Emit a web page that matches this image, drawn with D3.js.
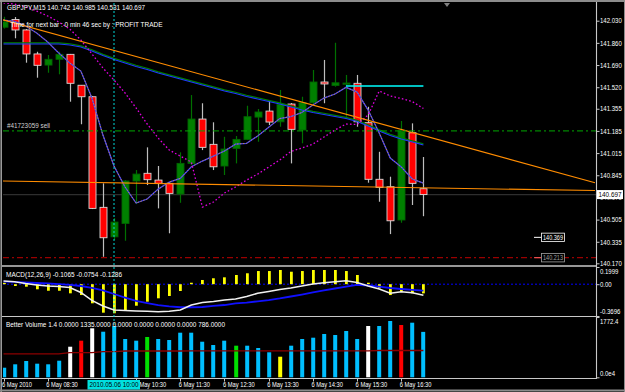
<!DOCTYPE html>
<html>
<head>
<meta charset="utf-8">
<script src="https://cdn.jsdelivr.net/npm/d3@7"></script>
<style>
  html, body { margin: 0; padding: 0; background: #000; }
  svg { display: block; }
  text { font-family: "Liberation Sans", Arial, sans-serif; font-size: 7px; fill: #fff; }
</style>
</head>
<body>
<svg id="chart" width="625" height="392"></svg>
<script>
// ── data (GBPJPY M15, 6 May 2010, 07:30 .. 17:00) ─────────────
const open  = [141.980,142.039,141.959,141.775,141.690,141.734,141.772,141.535,141.447,140.599,140.373,140.476,140.801,140.860,140.808,140.783,140.701,140.936,141.276,141.082,140.916,141.051,141.120,141.291,141.337,141.255,141.391,141.192,141.401,141.560,141.533,141.548,141.550,141.248,140.814,140.757,140.502,141.171,140.742];
const high  = [142.060,142.058,141.966,141.792,141.767,141.792,141.775,141.537,141.453,140.783,140.517,140.808,140.885,141.059,140.916,140.793,141.021,141.460,141.397,141.251,141.140,141.146,141.378,141.353,141.422,141.499,141.399,141.447,141.652,141.729,141.861,141.614,141.614,141.370,141.025,140.834,141.261,141.243,140.985];
const low   = [141.970,141.895,141.708,141.593,141.631,141.619,141.409,141.236,140.586,140.220,140.348,140.343,140.624,140.770,140.591,140.400,140.634,140.923,141.038,140.885,140.847,140.936,141.115,141.102,141.230,141.217,140.936,141.090,141.391,141.397,141.524,141.294,141.217,140.788,140.642,140.394,140.481,140.617,140.531];
const close = [142.020,141.959,141.775,141.688,141.734,141.772,141.550,141.447,140.591,140.366,140.486,140.801,140.854,140.811,140.783,140.706,140.936,141.276,141.059,140.910,141.046,141.120,141.294,141.330,141.253,141.389,141.197,141.401,141.560,141.545,141.554,141.552,141.255,140.814,140.752,140.496,141.184,140.783,140.697];

const slowMA = [141.851,141.851,141.851,141.851,141.851,141.851,141.844,141.828,141.798,141.763,141.732,141.706,141.679,141.656,141.629,141.606,141.583,141.560,141.537,141.514,141.491,141.472,141.449,141.430,141.410,141.391,141.368,141.345,141.326,141.311,141.295,141.280,141.257,141.222,141.184,141.150,141.123,141.100,141.077];
const fastMA = [142.035,142.024,141.989,141.936,141.867,141.782,141.706,141.644,141.437,141.153,140.916,140.755,140.632,140.663,140.739,140.793,140.821,140.910,140.954,140.992,141.031,141.084,141.090,141.146,141.213,141.280,141.295,141.326,141.384,141.437,141.468,141.519,141.483,141.345,141.169,140.977,140.908,140.816,140.785];
const dotLine = [142.166,142.158,142.135,142.104,142.066,142.020,141.966,141.882,141.775,141.667,141.575,141.476,141.361,141.238,141.130,141.038,140.992,140.946,140.601,140.640,140.709,140.755,140.808,140.854,140.908,140.962,141.027,141.054,141.084,141.138,141.192,141.238,141.234,141.307,141.491,141.453,141.433,141.410,141.357];

const macdHist  = [0.017,-0.021,-0.029,-0.059,-0.076,-0.076,-0.106,-0.126,-0.222,-0.331,-0.338,-0.300,-0.250,-0.203,-0.164,-0.137,-0.079,0.017,0.049,0.069,0.080,0.107,0.127,0.153,0.153,0.165,0.145,0.153,0.165,0.165,0.165,0.153,0.107,0.017,-0.048,-0.126,-0.087,-0.106,-0.1065];
const macdWhite = [0.037,0.029,0.008,-0.009,-0.021,-0.027,-0.038,-0.096,-0.189,-0.253,-0.300,-0.306,-0.311,-0.315,-0.320,-0.315,-0.300,-0.242,-0.213,-0.201,-0.184,-0.172,-0.143,-0.106,-0.085,-0.062,-0.044,-0.021,0.002,0.017,0.029,0.041,0.020,-0.021,-0.056,-0.106,-0.087,-0.099,-0.1286];
const macdBlue  = [0.031,0.026,0.020,0.014,0.010,0.002,-0.009,-0.021,-0.044,-0.073,-0.114,-0.155,-0.195,-0.219,-0.242,-0.257,-0.268,-0.268,-0.265,-0.253,-0.242,-0.224,-0.213,-0.199,-0.184,-0.166,-0.143,-0.120,-0.096,-0.073,-0.050,-0.029,-0.009,-0.015,-0.029,-0.044,-0.056,-0.067,-0.0754];

const volume   = [282,382,479,400,382,488,899,1076,1440,1340,1508,1126,1076,1185,1126,1096,1311,1311,1046,949,1076,929,929,861,735,605,929,1126,1164,1273,1243,1361,1126,1508,1508,1655,1537,1605,1335];
const volType  = ["c","c","c","c","c","c","w","r","w","c","c","c","c","g","c","c","c","c","c","c","c","g","c","c","c","y","c","c","c","c","c","c","c","w","c","c","r","c","c"];
const volAvg   = [690,690,690,690,690,690,725,725,725,755,755,772,772,772,772,772,772,778,778,778,778,778,778,778,778,778,778,778,778,778,778,778,778,778,786,786,786,786,786];

const priceTicks = [142.030,141.860,141.690,141.520,141.355,141.185,141.015,140.845,140.675,140.505,140.335,140.170];
const timeTickIdx = [0,4,12,16,20,24,28,32,36];
const timeTickLabels = ["6 May 2010","6 May 08:30","6 May 10:30","6 May 11:30","6 May 12:30","6 May 13:30","6 May 14:30","6 May 15:30","6 May 16:30"];

// chart objects (price levels / trendlines)
const sellLevel = 141.185, tpLevel = 140.213, bidLevel = 140.697, cyanLevel = 141.529;
const trendA = [[1, 142.012], [36, 141.196]];
const trendB = [[0, 140.801], [38, 140.749]];
const crossIdx = 10;

// ── layout ────────────────────────────────────────────────────
const svg = d3.select('#chart');
const axisX = 596.5;
const colVol = { c: '#00BFFF', w: '#FFFFFF', r: '#FF0000', g: '#00E000', y: '#FFFF00' };

const x  = d3.scaleLinear().domain([0, 38]).range([3.5, 423.4]);
const yP = d3.scaleLinear().domain([140.170, 142.030]).range([263.3, 20.7]);
const yM = d3.scaleLinear().domain([-0.3696, 0.1999]).range([316, 267]);
const yV = d3.scaleLinear().domain([0, 1772.4]).range([377.3, 317]);
const idx = d3.range(open.length);

svg.append('rect').attr('width', 625).attr('height', 392).attr('fill', '#000');

const defs = svg.append('defs');
[['clipMain', 3, 3, 593, 262], ['clipMacd', 3, 267, 593, 49], ['clipVol', 3, 317, 593, 61]].forEach(([id, cx, cy, cw, ch]) => {
  defs.append('clipPath').attr('id', id).append('rect')
    .attr('x', cx).attr('y', cy).attr('width', cw).attr('height', ch);
});
// time labels are hidden under the crosshair date box
const cpTime = defs.append('clipPath').attr('id', 'clipTime');
cpTime.append('rect').attr('x', 0).attr('y', 378).attr('width', 87.5).attr('height', 14);
cpTime.append('rect').attr('x', 140).attr('y', 378).attr('width', 460).attr('height', 14);
// price label hidden under the bid label
const cpAxis = defs.append('clipPath').attr('id', 'clipAxis');
cpAxis.append('rect').attr('x', 590).attr('y', 0).attr('width', 35).attr('height', 189.7);
cpAxis.append('rect').attr('x', 590).attr('y', 199.2).attr('width', 35).attr('height', 200);

function fitText(sel, w) {
  sel.attr('textLength', w).attr('lengthAdjust', 'spacingAndGlyphs');
}
function squeeze(sel, k) {
  sel.each(function () {
    const n = this.getComputedTextLength();
    d3.select(this).attr('textLength', n * k).attr('lengthAdjust', 'spacingAndGlyphs');
  });
}

// ── main price window ─────────────────────────────────────────
const main = svg.append('g').attr('clip-path', 'url(#clipMain)');

// bid line (behind the bars)
main.append('line')
  .attr('x1', 3).attr('x2', axisX).attr('y1', yP(bidLevel)).attr('y2', yP(bidLevel))
  .attr('stroke', '#2e2e2e').attr('stroke-width', 1.2);

// candles
const up = i => close[i] >= open[i];
main.append('g').selectAll('line')
  .data(idx).join('line')
  .attr('x1', i => Math.round(x(i)) + 0.5).attr('x2', i => Math.round(x(i)) + 0.5)
  .attr('y1', i => yP(high[i])).attr('y2', i => yP(low[i]))
  .attr('stroke', i => up(i) ? '#007000' : '#BEBEBE')
  .attr('stroke-width', 1.2);

main.append('g').selectAll('rect')
  .data(idx).join('rect')
  .attr('x', i => Math.round(x(i)) - 3)
  .attr('width', 7)
  .attr('y', i => yP(Math.max(open[i], close[i])))
  .attr('height', i => Math.max(1.2, Math.abs(yP(open[i]) - yP(close[i]))))
  .attr('fill', i => up(i) ? '#008000' : '#FF0000')
  .attr('stroke', i => up(i) ? '#006400' : '#D8D8D8')
  .attr('stroke-width', 0.9);

// moving averages
const line = arr => d3.line().x((d, i) => x(i)).y(d => yP(d))(arr);

main.append('path').attr('d', line(slowMA)).attr('fill', 'none')
  .attr('stroke', '#008000').attr('stroke-width', 1.2).attr('transform', 'translate(0,-1.2)');
main.append('path').attr('d', line(slowMA)).attr('fill', 'none')
  .attr('stroke', '#1E3CFF').attr('stroke-width', 1.1);

main.append('path').attr('d', line(fastMA)).attr('fill', 'none')
  .attr('stroke', '#3A3AFF').attr('stroke-width', 1.3);
main.append('path').attr('d', line(fastMA)).attr('fill', 'none')
  .attr('stroke', '#B98A5A').attr('stroke-width', 1).attr('stroke-dasharray', '1.5,1.5');

main.append('path').attr('d', line(dotLine)).attr('fill', 'none')
  .attr('stroke', '#E000E0').attr('stroke-width', 1.3).attr('stroke-dasharray', '1.6,2.2');

// trendlines, extended across the window
function ray(a) {
  const [[i0, p0], [i1, p1]] = a;
  const s = (p1 - p0) / (i1 - i0);
  const iL = x.invert(0), iR = x.invert(595);
  return [[x(iL), yP(p0 + s * (iL - i0))], [x(iR), yP(p0 + s * (iR - i0))]];
}
[trendA, trendB].forEach(t => {
  const [[xa, ya], [xb, yb]] = ray(t);
  main.append('line').attr('x1', xa).attr('y1', ya).attr('x2', xb).attr('y2', yb)
    .attr('stroke', '#FF8C00').attr('stroke-width', 1.1);
});

// order / target levels
main.append('line')
  .attr('x1', 3).attr('x2', axisX).attr('y1', yP(sellLevel)).attr('y2', yP(sellLevel))
  .attr('stroke', '#00A800').attr('stroke-width', 1).attr('stroke-dasharray', '6,3,2,3');
main.append('line')
  .attr('x1', 3).attr('x2', axisX).attr('y1', yP(tpLevel)).attr('y2', yP(tpLevel))
  .attr('stroke', '#9A0000').attr('stroke-width', 1.2).attr('stroke-dasharray', '6,3,2,3');
main.append('line')
  .attr('x1', x(31)).attr('x2', x(38)).attr('y1', yP(cyanLevel)).attr('y2', yP(cyanLevel))
  .attr('stroke', '#00FFFF').attr('stroke-width', 1.6);

// price text objects
[[140.369, '#FFFFFF', '#FFFFFF'], [tpLevel, '#A0A0A0', '#FF6060']].forEach(([p, c, lc]) => {
  const yy = yP(p);
  main.append('line').attr('x1', 534).attr('x2', 541.5).attr('y1', yy).attr('y2', yy)
    .attr('stroke', lc).attr('stroke-width', 1);
  main.append('rect').attr('x', 541.5).attr('y', yy - 4.2).attr('width', 23).attr('height', 8.4)
    .attr('fill', '#000').attr('stroke', c).attr('stroke-width', 0.8);
  main.append('text').attr('x', 553).attr('y', yy).attr('dy', '0.34em')
    .attr('text-anchor', 'middle').style('fill', c).text(p.toFixed(3))
    .call(fitText, 20);
});

main.append('text').attr('x', 7).attr('y', yP(sellLevel) - 2.5)
  .style('fill', '#D0D0D0').text('#41723059 sell').call(fitText, 43);

// ── MACD window ───────────────────────────────────────────────
const macd = svg.append('g').attr('clip-path', 'url(#clipMacd)');
macd.append('line').attr('x1', 3).attr('x2', axisX).attr('y1', yM(0)).attr('y2', yM(0))
  .attr('stroke', '#0000FF').attr('stroke-width', 1).attr('stroke-dasharray', '2,2');
macd.append('g').selectAll('rect').data(idx).join('rect')
  .attr('x', i => Math.round(x(i)) - 1)
  .attr('width', 2.8)
  .attr('y', i => Math.min(yM(0), yM(macdHist[i])))
  .attr('height', i => Math.max(0.8, Math.abs(yM(macdHist[i]) - yM(0))))
  .attr('fill', '#FFFF00');
const mline = arr => d3.line().x((d, i) => x(i)).y(d => yM(d))(arr);
macd.append('path').attr('d', mline(macdBlue)).attr('fill', 'none')
  .attr('stroke', '#1010FF').attr('stroke-width', 1.8);
macd.append('path').attr('d', mline(macdWhite)).attr('fill', 'none')
  .attr('stroke', '#F0F0F0').attr('stroke-width', 1.5);

// ── volume window ─────────────────────────────────────────────
const vol = svg.append('g').attr('clip-path', 'url(#clipVol)');
vol.append('g').selectAll('rect').data(idx).join('rect')
  .attr('x', i => Math.round(x(i)) - 1.8)
  .attr('width', 4)
  .attr('y', i => yV(volume[i]))
  .attr('height', i => yV(0) - yV(volume[i]))
  .attr('fill', i => colVol[volType[i]]);
vol.append('path').attr('d', d3.line().x((d, i) => x(i)).y(d => yV(d))(volAvg))
  .attr('fill', 'none').attr('stroke', '#8B0000').attr('stroke-width', 1.4);

// ── frames ────────────────────────────────────────────────────
const frame = svg.append('g').attr('stroke', '#C8C8C8').attr('fill', 'none');
frame.append('line').attr('x1', 0).attr('x2', 625).attr('y1', 1).attr('y2', 1).attr('stroke', '#8c8c8c').attr('stroke-width', 2);
frame.append('line').attr('x1', 1.2).attr('x2', 1.2).attr('y1', 0).attr('y2', 392).attr('stroke', '#9a9a9a').attr('stroke-width', 1.6);
frame.append('line').attr('x1', 0).attr('x2', 625).attr('y1', 390.5).attr('y2', 390.5).attr('stroke', '#8c8c8c').attr('stroke-width', 2);
frame.append('line').attr('x1', 624.5).attr('x2', 624.5).attr('y1', 0).attr('y2', 392).attr('stroke', '#8c8c8c').attr('stroke-width', 1);
[266, 316.5, 378.5].forEach(yy => {
  frame.append('line').attr('x1', 2).attr('x2', axisX).attr('y1', yy).attr('y2', yy)
    .attr('stroke-width', yy === 266 ? 1.6 : 1.1);
});
frame.append('line').attr('x1', axisX).attr('x2', axisX).attr('y1', 2).attr('y2', 379).attr('stroke-width', 1.1);

// chart-shift marker
svg.append('path').attr('d', 'M444,3 L450,3 L447,7 Z').attr('fill', '#808080');

// ── axes ──────────────────────────────────────────────────────
const pAxis = svg.append('g').attr('clip-path', 'url(#clipAxis)')
  .append('g').attr('transform', `translate(${axisX},0)`)
  .call(d3.axisRight(yP).tickValues(priceTicks).tickSize(3).tickPadding(0.5).tickFormat(d3.format('.3f')));
const mAxis = svg.append('g').attr('transform', `translate(${axisX},0)`)
  .call(d3.axisRight(yM).tickValues([0.1999, 0, -0.3696]).tickSize(3).tickPadding(0.5)
    .tickFormat(d => d === 0 ? '0.00' : d.toFixed(4)));
const vAxis = svg.append('g').attr('transform', `translate(${axisX},0)`)
  .call(d3.axisRight(yV).tickValues([1772.4, 0]).tickSize(3).tickPadding(0.5)
    .tickFormat(d => d === 0 ? '0.0e4' : d.toFixed(1)));
[pAxis, mAxis, vAxis].forEach(a => {
  a.select('.domain').remove();
  a.selectAll('line').attr('stroke', '#C8C8C8');
  a.selectAll('text').style('fill', '#fff').style('font-family', '"Liberation Sans", Arial, sans-serif')
    .style('font-size', '7px').call(squeeze, 0.86);
});
mAxis.selectAll('.tick text').attr('dy', d => d > 0.1 ? '0.9em' : d < -0.3 ? '-0.3em' : '0.32em');
vAxis.selectAll('.tick text').attr('dy', d => d > 0 ? '0.9em' : '-0.3em');

// current price label
svg.append('rect').attr('x', 597).attr('y', yP(bidLevel) - 4.5).attr('width', 26).attr('height', 9).attr('fill', '#fff');
svg.append('text').attr('x', 610).attr('y', yP(bidLevel)).attr('dy', '0.34em').attr('text-anchor', 'middle')
  .style('fill', '#000').text(bidLevel.toFixed(3)).call(fitText, 23);

// time axis
const tAxis = svg.append('g');
tAxis.selectAll('line').data(timeTickIdx).join('line')
  .attr('x1', i => Math.round(x(i)) + 0.5).attr('x2', i => Math.round(x(i)) + 0.5)
  .attr('y1', 378.5).attr('y2', 381.5).attr('stroke', '#C8C8C8');
tAxis.selectAll('text').data(timeTickIdx).join('text')
  .attr('x', i => x(i) - 1.5).attr('y', 387.3)
  .attr('clip-path', 'url(#clipTime)')
  .text((d, k) => timeTickLabels[k]).call(squeeze, 0.82);

// ── crosshair ─────────────────────────────────────────────────
svg.append('line').attr('x1', x(crossIdx)).attr('x2', x(crossIdx)).attr('y1', 3).attr('y2', 379)
  .attr('stroke', '#00D8D8').attr('stroke-width', 1).attr('stroke-dasharray', '2,2');
svg.append('rect').attr('x', 87.5).attr('y', 380).attr('width', 52.5).attr('height', 9.5).attr('fill', '#00E0E0');
svg.append('text').attr('x', x(crossIdx)).attr('y', 387.3).attr('text-anchor', 'middle')
  .style('fill', '#000').text('2010.05.06 10:00').call(fitText, 49);

// ── titles ────────────────────────────────────────────────────
svg.append('text').attr('x', 7).attr('y', 10)
  .text('GBPJPY,M15  140.742 140.985 140.531 140.697').call(fitText, 138);
svg.append('text').attr('x', 10.5).attr('y', 26.5)
  .text('Time for next bar : 0 min 46 sec by : PROFIT TRADE').call(fitText, 152);
svg.append('text').attr('x', 6).attr('y', 276.5)
  .text('MACD(12,26,9) -0.1065 -0.0754 -0.1286').call(fitText, 116);
svg.append('text').attr('x', 6).attr('y', 326.5)
  .text('Better Volume 1.4 0.0000 1335.0000 0.0000 0.0000 0.0000 0.0000 786.0000').call(fitText, 219);
</script>
</body>
</html>
